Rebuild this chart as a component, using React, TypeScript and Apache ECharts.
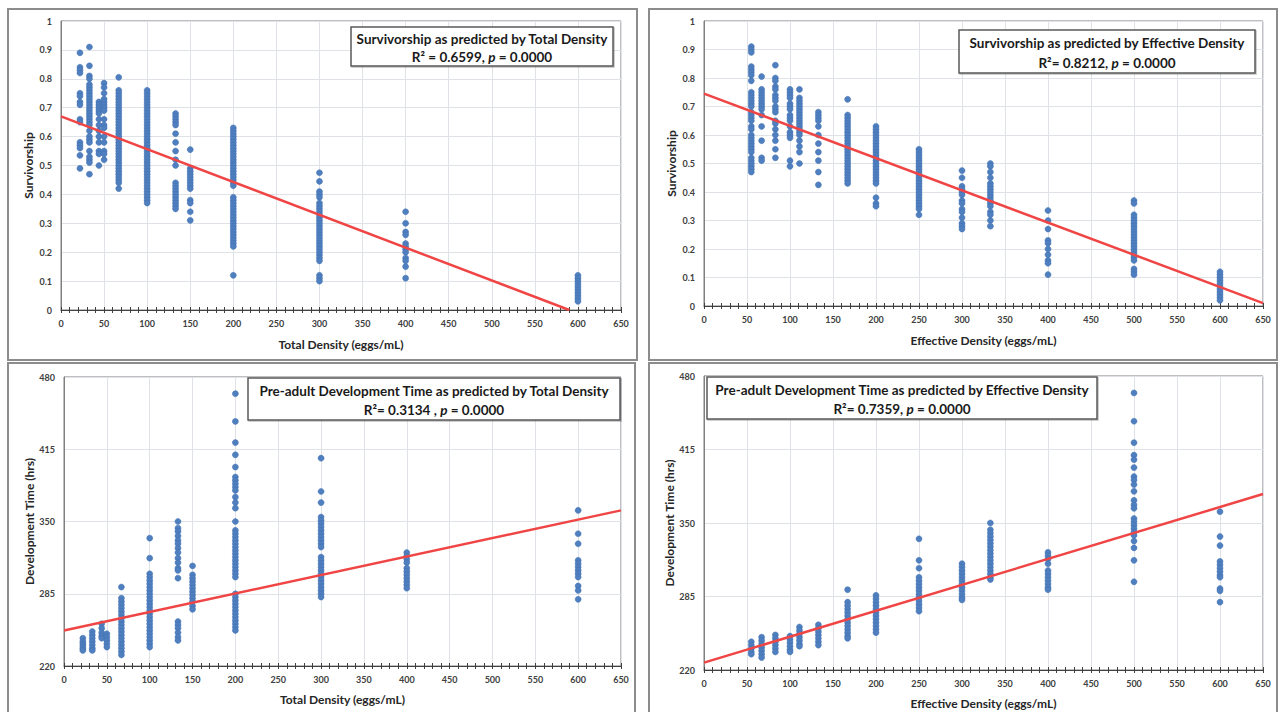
import React, { useEffect, useRef } from "react";
import * as echarts from "echarts";

// ---------- DATA ----------
const totalLevels = [22, 33, 44, 50, 67, 100, 133, 150, 200, 300, 400, 600];
const effLevels = [55, 67, 83, 100, 111, 133, 167, 200, 250, 300, 333, 400, 500, 600];

const survTotal: number[][] = [
  [0.89, 0.84, 0.83, 0.82, 0.75, 0.74, 0.72, 0.71, 0.66, 0.65, 0.58, 0.57, 0.56, 0.535, 0.49],
  [0.91, 0.845, 0.81, 0.8, 0.78, 0.77, 0.76, 0.75, 0.74, 0.73, 0.72, 0.71, 0.7, 0.69, 0.68, 0.67, 0.66, 0.65, 0.64, 0.62, 0.6, 0.59, 0.58, 0.55, 0.53, 0.52, 0.51, 0.47],
  [0.72, 0.71, 0.7, 0.69, 0.68, 0.66, 0.64, 0.62, 0.6, 0.58, 0.55, 0.54, 0.5],
  [0.785, 0.77, 0.75, 0.73, 0.72, 0.71, 0.7, 0.69, 0.66, 0.64, 0.63, 0.6, 0.58, 0.55, 0.54, 0.52],
  [0.805, 0.76, 0.75, 0.74, 0.73, 0.72, 0.71, 0.7, 0.69, 0.68, 0.67, 0.66, 0.65, 0.64, 0.63, 0.62, 0.61, 0.6, 0.59, 0.58, 0.57, 0.56, 0.55, 0.54, 0.53, 0.52, 0.51, 0.5, 0.49, 0.48, 0.47, 0.46, 0.45, 0.44, 0.42],
  [0.76, 0.75, 0.74, 0.73, 0.72, 0.71, 0.7, 0.69, 0.68, 0.67, 0.66, 0.65, 0.64, 0.63, 0.62, 0.61, 0.6, 0.59, 0.58, 0.57, 0.56, 0.55, 0.54, 0.53, 0.52, 0.51, 0.5, 0.49, 0.48, 0.47, 0.46, 0.45, 0.44, 0.43, 0.42, 0.41, 0.4, 0.39, 0.38, 0.37],
  [0.68, 0.67, 0.66, 0.65, 0.64, 0.61, 0.58, 0.55, 0.52, 0.5, 0.44, 0.43, 0.42, 0.41, 0.4, 0.39, 0.38, 0.37, 0.36, 0.35],
  [0.555, 0.49, 0.48, 0.47, 0.46, 0.45, 0.44, 0.43, 0.42, 0.38, 0.37, 0.34, 0.31],
  [0.63, 0.62, 0.61, 0.6, 0.59, 0.58, 0.57, 0.56, 0.55, 0.54, 0.53, 0.52, 0.51, 0.5, 0.49, 0.48, 0.47, 0.46, 0.45, 0.44, 0.43, 0.39, 0.38, 0.37, 0.36, 0.35, 0.34, 0.33, 0.32, 0.31, 0.3, 0.29, 0.28, 0.27, 0.26, 0.25, 0.24, 0.23, 0.22, 0.12],
  [0.475, 0.445, 0.41, 0.4, 0.39, 0.37, 0.36, 0.35, 0.34, 0.33, 0.32, 0.31, 0.3, 0.29, 0.28, 0.27, 0.26, 0.25, 0.24, 0.23, 0.22, 0.21, 0.2, 0.19, 0.18, 0.17, 0.12, 0.11, 0.1],
  [0.34, 0.3, 0.27, 0.26, 0.23, 0.22, 0.21, 0.2, 0.18, 0.17, 0.15, 0.11],
  [0.12, 0.11, 0.1, 0.09, 0.08, 0.07, 0.06, 0.05, 0.04, 0.03],
];

const survEff: number[][] = [
  [0.91, 0.9, 0.89, 0.84, 0.83, 0.82, 0.81, 0.79, 0.75, 0.74, 0.73, 0.72, 0.71, 0.7, 0.68, 0.67, 0.66, 0.65, 0.63, 0.62, 0.6, 0.59, 0.58, 0.57, 0.56, 0.55, 0.54, 0.52, 0.51, 0.5, 0.49, 0.48, 0.47],
  [0.805, 0.76, 0.75, 0.74, 0.73, 0.72, 0.71, 0.7, 0.69, 0.67, 0.63, 0.58, 0.52, 0.51],
  [0.845, 0.8, 0.79, 0.77, 0.76, 0.74, 0.73, 0.72, 0.7, 0.69, 0.68, 0.65, 0.64, 0.62, 0.6, 0.58, 0.55, 0.52],
  [0.76, 0.75, 0.74, 0.73, 0.71, 0.7, 0.69, 0.67, 0.66, 0.65, 0.63, 0.61, 0.6, 0.59, 0.51, 0.49],
  [0.76, 0.73, 0.72, 0.71, 0.7, 0.69, 0.68, 0.67, 0.66, 0.65, 0.64, 0.63, 0.62, 0.61, 0.6, 0.58, 0.56, 0.54, 0.5],
  [0.68, 0.67, 0.66, 0.65, 0.63, 0.6, 0.57, 0.54, 0.51, 0.47, 0.425],
  [0.725, 0.67, 0.66, 0.65, 0.64, 0.63, 0.62, 0.61, 0.6, 0.59, 0.58, 0.57, 0.56, 0.55, 0.54, 0.53, 0.52, 0.51, 0.5, 0.49, 0.48, 0.47, 0.46, 0.45, 0.44, 0.43],
  [0.63, 0.62, 0.61, 0.6, 0.59, 0.58, 0.57, 0.56, 0.55, 0.54, 0.53, 0.52, 0.51, 0.5, 0.49, 0.48, 0.47, 0.46, 0.45, 0.44, 0.43, 0.38, 0.36, 0.35],
  [0.55, 0.54, 0.53, 0.52, 0.51, 0.5, 0.49, 0.48, 0.47, 0.46, 0.45, 0.44, 0.43, 0.42, 0.41, 0.4, 0.39, 0.38, 0.37, 0.36, 0.35, 0.34, 0.32],
  [0.475, 0.45, 0.42, 0.41, 0.4, 0.39, 0.37, 0.36, 0.34, 0.33, 0.31, 0.29, 0.28, 0.27],
  [0.5, 0.49, 0.47, 0.45, 0.43, 0.42, 0.41, 0.4, 0.39, 0.38, 0.37, 0.36, 0.35, 0.33, 0.32, 0.3, 0.28],
  [0.335, 0.3, 0.27, 0.23, 0.22, 0.2, 0.18, 0.16, 0.15, 0.11],
  [0.37, 0.36, 0.32, 0.31, 0.3, 0.29, 0.28, 0.27, 0.26, 0.25, 0.24, 0.23, 0.22, 0.21, 0.2, 0.19, 0.18, 0.17, 0.16, 0.13, 0.12, 0.11],
  [0.12, 0.11, 0.1, 0.09, 0.08, 0.07, 0.06, 0.05, 0.04, 0.03, 0.02],
];

const devTotal: number[][] = [
  [245, 242, 240, 238, 236, 234],
  [251, 248, 245, 242, 239, 236, 234],
  [258, 254, 250, 247, 245],
  [249, 246, 243, 240, 237],
  [291, 281, 278, 275, 272, 269, 266, 263, 260, 257, 254, 251, 248, 245, 242, 239, 236, 233, 230],
  [335, 317, 303, 300, 297, 294, 291, 288, 285, 282, 279, 276, 273, 270, 267, 264, 261, 258, 255, 252, 249, 246, 243, 240, 237],
  [350, 344, 341, 337, 333, 330, 326, 322, 317, 313, 308, 306, 299, 260, 257, 254, 250, 246, 243],
  [310, 302, 299, 296, 293, 290, 287, 284, 281, 278, 274, 271],
  [465, 440, 421, 410, 399, 390, 387, 384, 381, 378, 372, 367, 362, 350, 342, 339, 336, 333, 330, 327, 324, 321, 318, 315, 312, 309, 306, 303, 300, 285, 282, 279, 276, 273, 270, 267, 264, 261, 258, 255, 252],
  [407, 377, 367, 354, 351, 348, 345, 342, 339, 336, 333, 330, 327, 318, 315, 312, 309, 306, 303, 300, 297, 294, 291, 288, 285, 282],
  [322, 319, 316, 313, 308, 305, 302, 299, 296, 293, 290],
  [360, 339, 330, 315, 312, 309, 306, 303, 300, 292, 288, 280],
];

const devEff: number[][] = [
  [245, 242, 239, 236, 234],
  [249, 246, 243, 240, 237, 234, 231],
  [251, 248, 245, 242, 239, 236],
  [250, 247, 244, 241, 238, 236],
  [258, 255, 252, 249, 246, 243, 241],
  [260, 257, 254, 251, 248, 245, 242],
  [291, 280, 277, 274, 271, 268, 265, 262, 259, 256, 253, 250, 248],
  [286, 283, 280, 277, 274, 271, 268, 265, 262, 259, 256, 253],
  [336, 317, 310, 302, 299, 296, 293, 290, 287, 284, 281, 278, 275, 272],
  [314, 311, 308, 305, 302, 299, 296, 293, 290, 287, 284, 282],
  [350, 344, 341, 338, 335, 332, 329, 326, 323, 320, 317, 314, 311, 308, 305, 302, 300],
  [324, 321, 318, 314, 308, 305, 302, 299, 296, 293, 291],
  [465, 440, 421, 410, 406, 399, 391, 388, 384, 378, 370, 366, 363, 354, 351, 348, 345, 342, 339, 334, 328, 317, 298],
  [360, 338, 330, 316, 313, 310, 307, 304, 302, 292, 290, 280],
];

// regression line end points
const fitSurvTotal = [[0, 0.67], [590, 0]];
const fitSurvEff = [[0, 0.745], [650, 0.01]];
const fitDevTotal = [[0, 252], [650, 360]];
const fitDevEff = [[0, 226.5], [650, 375.6]];

const xTitles = ["Total Density (eggs/mL)", "Effective Density (eggs/mL)", "Total Density (eggs/mL)", "Effective Density (eggs/mL)"];
const yTitles = ["Survivorship", "Survivorship", "Development Time (hrs)", "Development Time (hrs)"];
const boxTitles = [
  "Survivorship as predicted by Total Density",
  "Survivorship as predicted by Effective Density",
  "Pre-adult Development Time as predicted by Total Density",
  "Pre-adult Development Time as predicted by Effective Density",
];
const boxStats = [
  ["R² = 0.6599, ", "p", " = 0.0000"],
  ["R²= 0.8212, ", "p", " = 0.0000"],
  ["R²= 0.3134 , ", "p", " = 0.0000"],
  ["R²= 0.7359, ", "p", " = 0.0000"],
];

// ---------- helpers ----------
const FONT = "Lato, 'Open Sans', sans-serif";
const DOT = "#4f7fbf";
const LINE = "#f04545";

function pts(levels: number[], vals: number[][]) {
  const out: number[][] = [];
  levels.forEach((x, i) => vals[i].forEach((v) => out.push([x, v])));
  return out;
}

const grids = [
  { left: 61, top: 21, width: 560, height: 289 },
  { left: 704, top: 21, width: 559, height: 285 },
  { left: 64, top: 377, width: 557, height: 289 },
  { left: 704, top: 376, width: 559, height: 294 },
];

const boxes = [
  { x: 351, y: 27, w: 262, h: 39 },
  { x: 959, y: 30, w: 296, h: 43 },
  { x: 248, y: 378, w: 372, h: 42 },
  { x: 707, y: 377, w: 390, h: 42 },
];

const panels = [
  { x: 8, y: 9, w: 629, h: 351 },
  { x: 649, y: 9, w: 628, h: 351 },
  { x: 8, y: 363, w: 627, h: 360 },
  { x: 649, y: 363, w: 628, h: 360 },
];

export default function App() {
  const ref = useRef<HTMLDivElement>(null);
  useEffect(() => {
    if (!ref.current) return;
    const chart = echarts.init(ref.current, undefined, { renderer: "svg" });

    const tickColor = "#404040";
    const xAxes: any[] = grids.map((_, i) => ({
      type: "value",
      gridIndex: i,
      min: 0,
      max: 650,
      interval: 50,
      name: xTitles[i],
      nameLocation: "middle",
      nameGap: i >= 2 ? 27 : 28,
      nameTextStyle: { fontFamily: FONT, fontSize: 12, fontWeight: "bold", color: "#262626" },
      axisLine: { show: true, onZero: false, lineStyle: { color: tickColor, width: 1 } },
      axisTick: { show: true, length: 3, lineStyle: { color: tickColor } },
      minorTick: { show: true, splitNumber: 5, length: 3, lineStyle: { color: tickColor } },
      axisLabel: { fontFamily: FONT, fontSize: 9, fontWeight: "bold", color: "#404040", margin: 9 },
      splitLine: { show: true, lineStyle: { color: "#dfe3e8", width: 1 } },
      minorSplitLine: { show: false },
    }));
    // companion axes that draw the inner half of the cross-shaped ticks
    grids.forEach((_, i) => {
      xAxes.push({
        type: "value",
        gridIndex: i,
        position: "bottom",
        min: 0,
        max: 650,
        interval: 50,
        axisLine: { show: false, onZero: false },
        axisTick: { show: true, inside: true, length: 3, lineStyle: { color: tickColor } },
        minorTick: { show: true, splitNumber: 5, length: 3, lineStyle: { color: tickColor } },
        axisLabel: { show: false },
        splitLine: { show: false },
      });
    });

    const yAxes = grids.map((_, i) => {
      const top = i < 2;
      return {
        type: "value",
        gridIndex: i,
        min: top ? 0 : 220,
        max: top ? 1 : 480,
        interval: top ? 0.1 : 65,
        name: yTitles[i],
        nameLocation: "middle",
        nameGap: top ? 27 : 29,
        nameTextStyle: { fontFamily: FONT, fontSize: 12, fontWeight: "bold", color: "#262626" },
        axisLine: { show: true, lineStyle: { color: "#808080", width: 1 } },
        axisTick: { show: false },
        axisLabel: { fontFamily: FONT, fontSize: 9, fontWeight: "bold", color: "#404040", margin: 9 },
        splitLine: { show: true, lineStyle: { color: "#dfe3e8", width: 1 } },
      };
    });

    const scatterData = [
      pts(totalLevels, survTotal),
      pts(effLevels, survEff),
      pts(totalLevels, devTotal),
      pts(effLevels, devEff),
    ];
    const fits = [fitSurvTotal, fitSurvEff, fitDevTotal, fitDevEff];

    const series: any[] = [];
    scatterData.forEach((d, i) => {
      series.push({
        type: "scatter",
        xAxisIndex: i,
        yAxisIndex: i,
        data: d,
        symbol: "circle",
        symbolSize: 6,
        itemStyle: { color: DOT, opacity: 1, borderColor: "#3f6fae", borderWidth: 0.5 },
        z: 2,
      });
      series.push({
        type: "line",
        xAxisIndex: i,
        yAxisIndex: i,
        data: fits[i],
        symbol: "none",
        lineStyle: { color: LINE, width: 2.5 },
        z: 3,
      });
    });

    const graphic: any[] = [];
    panels.forEach((p) => {
      graphic.push({
        type: "rect",
        shape: { x: p.x, y: p.y, width: p.w, height: p.h },
        style: { fill: "none", stroke: "#8c8c8c", lineWidth: 2 },
        z: 1,
      });
    });
    boxes.forEach((b, i) => {
      graphic.push({
        type: "rect",
        shape: { x: b.x, y: b.y, width: b.w, height: b.h },
        style: { fill: "#ffffff", stroke: "#595959", lineWidth: 1.5, shadowColor: "rgba(0,0,0,0.25)", shadowOffsetX: 1, shadowOffsetY: 1, shadowBlur: 1 },
        z: 10,
      });
      graphic.push({
        type: "text",
        x: b.x + b.w / 2,
        y: b.y + b.h * 0.3,
        style: {
          text: boxTitles[i],
          fontFamily: FONT,
          fontSize: 13.5,
          fontWeight: "bold",
          fill: "#1a1a1a",
          align: "center",
          verticalAlign: "middle",
        },
        z: 11,
      });
      const s = boxStats[i];
      graphic.push({
        type: "text",
        x: b.x + b.w / 2,
        y: b.y + b.h * 0.76,
        style: {
          text: `{a|${s[0]}}{i|${s[1]}}{a|${s[2]}}`,
          align: "center",
          verticalAlign: "middle",
          rich: {
            a: { fontFamily: FONT, fontSize: 13.5, fontWeight: "bold", fill: "#1a1a1a" },
            i: { fontFamily: FONT, fontSize: 13.5, fontWeight: "bold", fontStyle: "italic", fill: "#1a1a1a" },
          },
        },
        z: 11,
      });
    });

    chart.setOption({
      animation: false,
      backgroundColor: "#ffffff",
      grid: grids.map((g) => ({ ...g, show: true, borderColor: "#7f7f7f", borderWidth: 1, backgroundColor: "transparent" })),
      xAxis: xAxes,
      yAxis: yAxes,
      series,
      graphic,
    });
    return () => chart.dispose();
  }, []);

  return (
    <div
      ref={ref}
      style={{ position: "fixed", left: 0, top: 0, width: 1279, height: 712, background: "#fff" }}
    />
  );
}
